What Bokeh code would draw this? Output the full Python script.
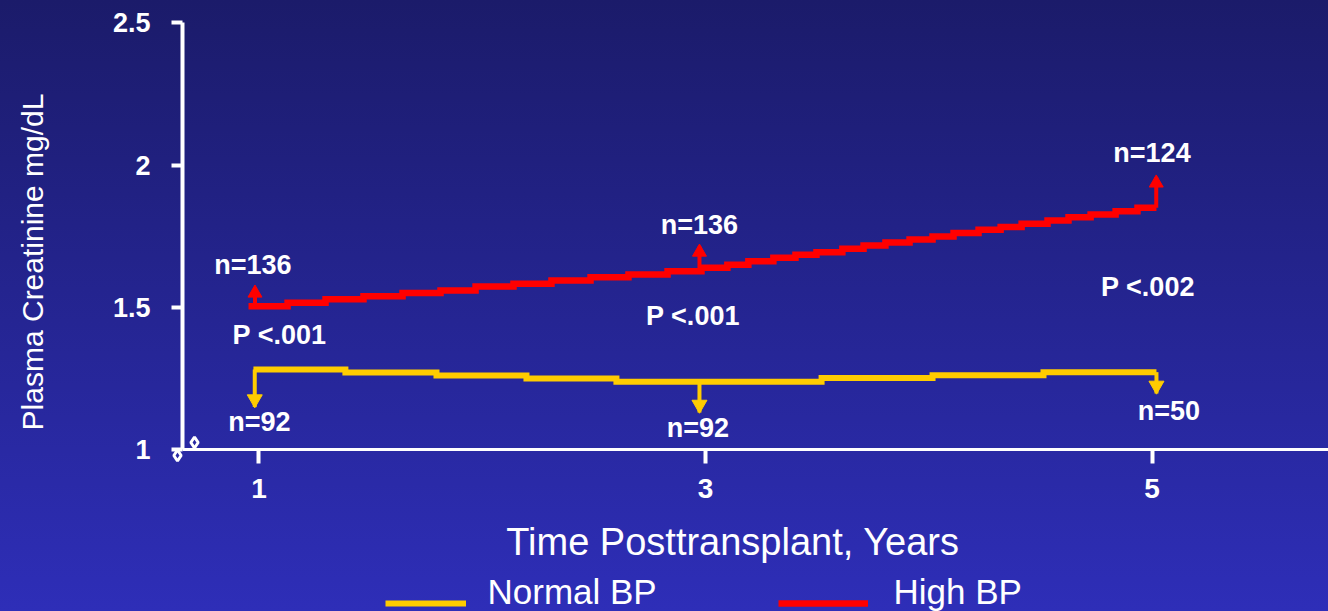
import math
from bokeh.plotting import figure
from bokeh.models import (FixedTicker, Label, Legend, LegendItem,
                          GlobalInlineStyleSheet, Range1d)
from bokeh.core.properties import value
from bokeh.embed import file_html
from bokeh.resources import INLINE

# ---------------- data ----------------
x_ticks = [1, 3, 5]
y_ticks = [1, 1.5, 2, 2.5]
y_tick_labels = ["1", "1.5", "2", "2.5"]

# High BP (red) step curve: step start (years) and plasma creatinine (mg/dL)
high_x = [0.953, 1.128, 1.298, 1.468, 1.643, 1.813, 1.970, 2.140, 2.310, 2.485,
          2.655, 2.830, 2.982, 3.098, 3.192, 3.304, 3.403, 3.497, 3.613, 3.708,
          3.806, 3.914, 4.017, 4.111, 4.223, 4.322, 4.416, 4.532, 4.626, 4.725,
          4.837, 4.935, 5.020]
high_y = [1.504, 1.516, 1.528, 1.539, 1.550, 1.559, 1.573, 1.583, 1.594, 1.606,
          1.615, 1.627, 1.639, 1.650, 1.662, 1.674, 1.685, 1.694, 1.706, 1.717,
          1.728, 1.738, 1.749, 1.761, 1.773, 1.782, 1.794, 1.805, 1.817, 1.826,
          1.838, 1.850, 1.850]

# Normal BP (yellow) step curve
normal_x = [0.975, 1.387, 1.795, 2.198, 2.601, 3.520, 4.017, 4.514, 5.020]
normal_y = [1.281, 1.271, 1.260, 1.250, 1.238, 1.251, 1.261, 1.272, 1.272]

# error bars at years 1, 3, 5
high_err_x = [0.982, 2.973, 5.019]
high_err_mean = [1.504, 1.627, 1.850]
high_err_hi = [1.570, 1.714, 1.957]
normal_err_x = [0.981, 2.973, 5.020]
normal_err_mean = [1.281, 1.238, 1.272]
normal_err_lo = [1.149, 1.130, 1.197]

# annotations
ann_text = ["n=136", "P <.001", "n=92",
            "n=136", "P <.001", "n=92",
            "n=124", "P <.002", "n=50"]
ann_x = [0.973, 1.092, 1.002, 2.973, 2.944, 2.966, 5.000, 4.982, 5.076]
ann_y = [1.647, 1.404, 1.095, 1.791, 1.469, 1.074, 2.041, 1.570, 1.137]

x_title = "Time Posttransplant, Years"
y_title = "Plasma Creatinine mg/dL"
legend_labels = ["Normal BP", "High BP"]

RED = "#ff0000"
YELLOW = "#ffcc00"
WHITE = "#ffffff"
FONT = "Liberation Sans"

grad = "linear-gradient(180deg, #1b1b6a 0px, #2e2eb8 611px)"
css = GlobalInlineStyleSheet(css=(
    "html { height: 100%; background: " + grad + " no-repeat fixed; }"
    " body { background: transparent; }"))

# frame covers the whole canvas; axes are drawn at fixed locations inside it
X0, X1 = -0.15789, 5.79059
Y0, Y1 = 0.43038, 2.57876
p = figure(width=1328, height=611, output_backend="svg", toolbar_location=None,
           title=None, x_range=Range1d(X0, X1), y_range=Range1d(Y0, Y1),
           min_border=0)
p.stylesheets = [css]
p.styles = {"background": grad, "background-attachment": "fixed"}
p.border_fill_alpha = 0
p.background_fill_alpha = 0
p.outline_line_color = None
p.xgrid.visible = False
p.ygrid.visible = False

# axes
for ax in (p.xaxis, p.yaxis):
    ax.axis_line_color = WHITE
    ax.major_tick_line_color = WHITE
    ax.minor_tick_line_color = None
    ax.major_tick_in = 0
    ax.major_label_text_color = WHITE
    ax.major_label_text_font = FONT
    ax.major_label_text_font_style = "bold"

p.xaxis.fixed_location = y_ticks[0]
p.xaxis.bounds = (0.657, X1)
p.xaxis.ticker = FixedTicker(ticks=x_ticks)
p.xaxis.axis_line_width = 3
p.xaxis.major_tick_line_width = 4
p.xaxis.major_tick_out = 14
p.xaxis.major_label_standoff = 16
p.xaxis.major_label_text_font_size = "28px"

p.yaxis.fixed_location = 0.657
p.yaxis.bounds = (y_ticks[0], y_ticks[-1])
p.yaxis.ticker = FixedTicker(ticks=y_ticks)
p.yaxis.major_label_overrides = {t: s for t, s in zip(y_ticks, y_tick_labels)}
p.yaxis.axis_line_width = 4
p.yaxis.major_tick_line_width = 4
p.yaxis.major_tick_out = 11
p.yaxis.major_label_standoff = 21
p.yaxis.major_label_text_font_size = "27px"

# axis-break mark at the origin
p.scatter(x=[0.7111, 0.6349], y=[1.0246, 0.9789], marker="diamond", size=11,
          fill_alpha=0, line_color=WHITE, line_width=3)

# curves
r_normal = p.step(normal_x, normal_y, mode="after", line_color=YELLOW,
                  line_width=6, line_join="miter")
r_high = p.step(high_x, high_y, mode="after", line_color=RED,
                line_width=6.5, line_join="miter")

# error bars
p.segment(x0=high_err_x, y0=high_err_mean, x1=high_err_x, y1=high_err_hi,
          line_color=RED, line_width=4)
p.scatter(x=high_err_x, y=[v - 0.02 for v in high_err_hi], marker="triangle",
          size=14, fill_color=RED, line_color=RED)
p.segment(x0=normal_err_x, y0=normal_err_mean, x1=normal_err_x, y1=normal_err_lo,
          line_color=YELLOW, line_width=4)
p.scatter(x=normal_err_x, y=[v + 0.028 for v in normal_err_lo],
          marker="inverted_triangle", size=15, fill_color=YELLOW, line_color=YELLOW)

# annotations
p.text(x=ann_x, y=ann_y, text=ann_text, text_color=WHITE,
       text_font=value(FONT), text_font_size="27px", text_font_style="bold",
       text_align="center", text_baseline="middle")

# axis titles
p.add_layout(Label(x=3.123, y=0.6765, text=x_title, text_color=WHITE,
                   text_font=FONT, text_font_size="38px",
                   text_align="center", text_baseline="middle"))
p.add_layout(Label(x=-0.0146, y=1.6593, text=y_title, text_color=WHITE,
                   text_font=FONT, text_font_size="30px", angle=math.pi / 2,
                   text_align="center", text_baseline="middle"))

# legend swatches (library legend) + legend texts placed beside them
def make_legend(renderer, x_off, gw):
    return Legend(items=[LegendItem(label=" ", renderers=[renderer])],
                  location=(x_off, -1.5), orientation="horizontal",
                  glyph_width=gw, glyph_height=20, label_height=20,
                  label_width=1, label_standoff=0, padding=0, margin=0,
                  spacing=0, background_fill_alpha=0, border_line_alpha=0,
                  label_text_font_size="1px", label_text_alpha=0)

p.add_layout(make_legend(r_normal, 385, 81))
p.add_layout(make_legend(r_high, 778, 90))

legend_text_x = [2.0235, 3.8421]
for lbl, lx in zip(legend_labels, legend_text_x):
    p.add_layout(Label(x=lx, y=0.5007, text=lbl, text_color=WHITE,
                       text_font=FONT, text_font_size="35px",
                       text_align="left", text_baseline="middle"))

open("out.html", "w").write(file_html(p, INLINE))
